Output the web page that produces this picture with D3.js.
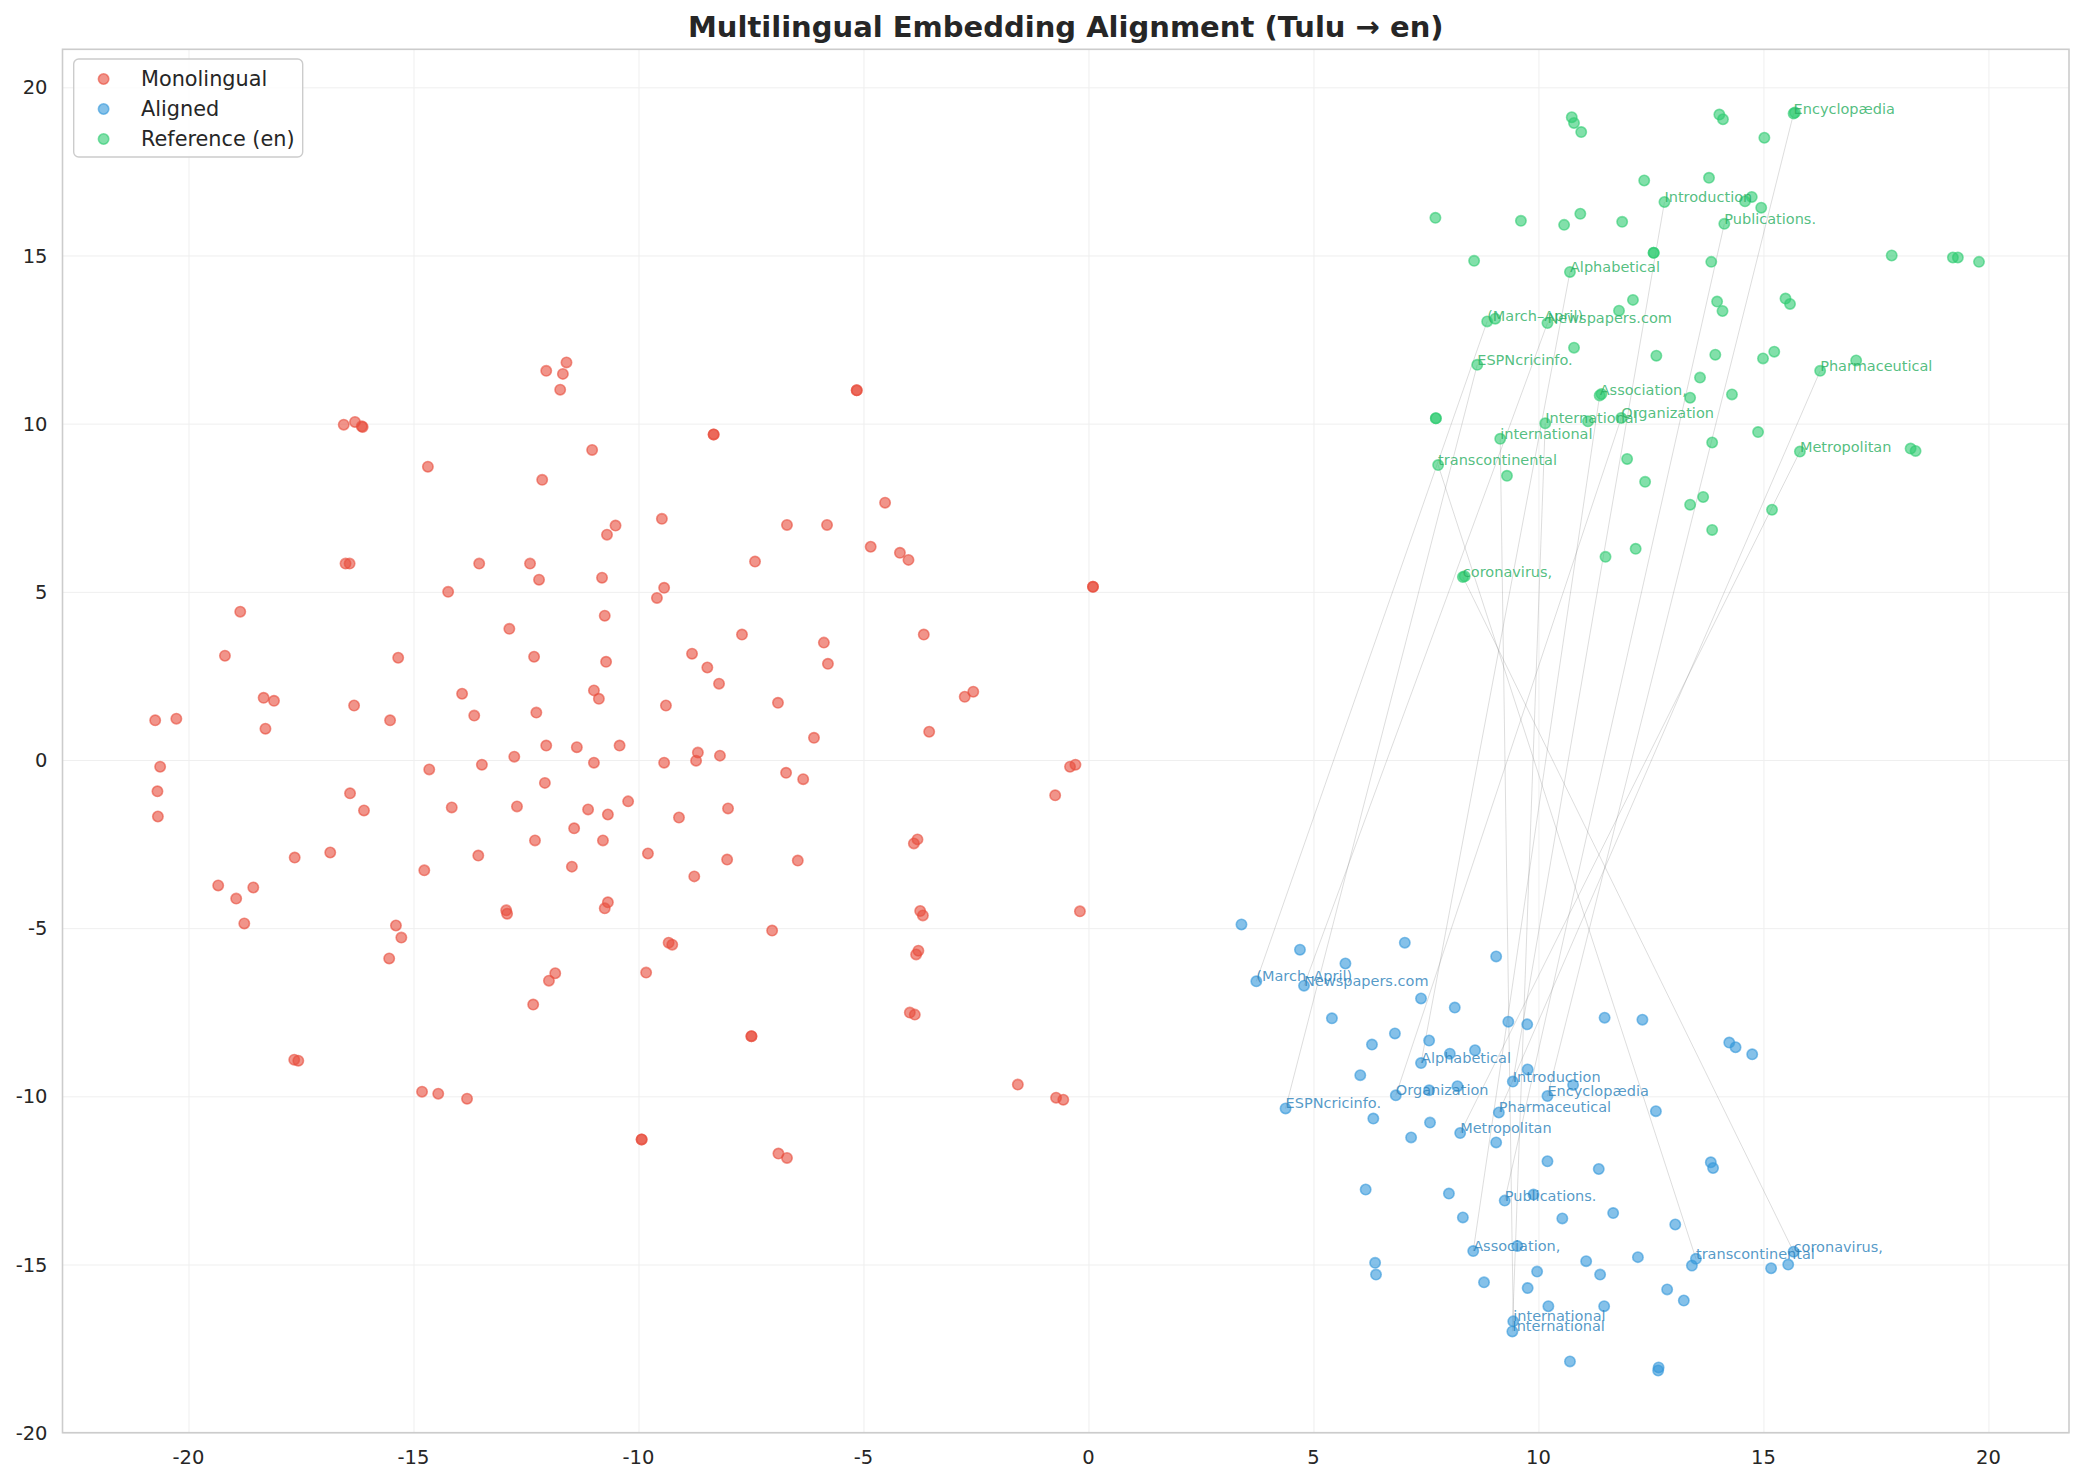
<!DOCTYPE html>
<html lang="en">
<head>
<meta charset="UTF-8">
<script src="https://d3js.org/d3.v7.min.js"></script>
<style>
    body {margin: 0; background: #ffffff;}
    svg text {font-family: "DejaVu Sans", sans-serif;}
</style>
</head>
<body>
<svg class="chart"></svg>
<script type="text/javascript">
// monolingual (source) embeddings
const monolingual = [
    [-11.6, 11.82], [-12.05, 11.57], [-11.68, 11.48], [-11.74, 11.01],
    [-16.55, 9.97], [-16.3, 10.05], [-16.15, 9.92], [-16.13, 9.9],
    [-11.03, 9.22], [-14.68, 8.72], [-12.14, 8.33], [-10.51, 6.97], [-10.7, 6.7],
    [-16.51, 5.84], [-16.42, 5.84], [-13.54, 5.84], [-12.41, 5.84], [-12.21, 5.36], [-10.81, 5.42],
    [-14.23, 5.0], [-10.75, 4.29], [-18.85, 4.41], [-12.87, 3.9],
    [-19.19, 3.1], [-15.34, 3.04], [-12.32, 3.07], [-10.72, 2.92],
    [-13.92, 1.97], [-10.99, 2.07], [-10.88, 1.82], [-18.33, 1.85], [-18.1, 1.76], [-16.32, 1.62],
    [-20.74, 1.18], [-20.27, 1.23], [-18.29, 0.93], [-15.52, 1.18], [-13.65, 1.32], [-12.27, 1.41],
    [-12.05, 0.43], [-11.37, 0.38], [-10.42, 0.43],
    [-20.63, -0.2], [-14.65, -0.28], [-13.48, -0.14], [-12.76, 0.1], [-10.99, -0.08],
    [-12.08, -0.68], [-20.69, -0.93], [-20.68, -1.68], [-16.41, -0.99], [-16.1, -1.5],
    [-14.15, -1.41], [-12.7, -1.38], [-11.12, -1.47], [-10.68, -1.62], [-11.43, -2.03],
    [-12.3, -2.39], [-10.79, -2.39], [-16.85, -2.75], [-17.64, -2.9], [-13.56, -2.84],
    [-14.76, -3.28], [-11.48, -3.17], [-19.34, -3.73], [-18.56, -3.79], [-18.94, -4.12],
    [-18.76, -4.86], [-12.94, -4.47], [-12.92, -4.57], [-10.68, -4.23], [-10.75, -4.41],
    [-15.39, -4.92], [-15.27, -5.28], [-15.54, -5.9], [-11.85, -6.34], [-11.99, -6.56],
    [-12.34, -7.27], [-17.65, -8.91], [-17.56, -8.94], [-14.81, -9.86], [-14.45, -9.92], [-13.81, -10.07],
    [-5.15, 10.99], [-5.15, 10.99], [-8.33, 9.68], [-8.33, 9.68], [-4.52, 7.65], [-6.7, 6.99],
    [-5.81, 6.99], [-9.48, 7.17], [-7.41, 5.9], [-4.84, 6.34], [-4.19, 6.16], [-4.0, 5.95],
    [0.1, 5.15], [0.1, 5.15], [-9.43, 5.12], [-9.59, 4.82], [-7.7, 3.73], [-5.88, 3.49],
    [-5.79, 2.86], [-3.66, 3.73], [-8.81, 3.16], [-8.47, 2.75], [-8.21, 2.27], [-9.39, 1.62],
    [-6.9, 1.7], [-2.75, 1.88], [-2.56, 2.03], [-3.54, 0.84], [-6.1, 0.66], [-9.43, -0.08],
    [-8.68, 0.22], [-8.72, -0.02], [-8.19, 0.13], [-6.72, -0.38], [-6.34, -0.57], [-0.41, -0.2], [-0.29, -0.14],
    [-10.23, -1.23], [-9.1, -1.71], [-8.01, -1.44], [-0.74, -1.05], [-9.79, -2.78], [-8.03, -2.96],
    [-6.46, -2.99], [-8.76, -3.46], [-3.88, -2.48], [-3.8, -2.36], [-3.74, -4.49], [-3.68, -4.62],
    [-0.19, -4.5], [-7.03, -5.07], [-9.33, -5.43], [-9.25, -5.49], [-3.78, -5.67], [-3.83, -5.78],
    [-9.83, -6.32], [-3.97, -7.51], [-3.86, -7.57], [-7.49, -8.21], [-7.49, -8.21], [-1.57, -9.65],
    [-0.72, -10.04], [-0.56, -10.1], [-9.93, -11.28], [-9.93, -11.28], [-6.89, -11.7], [-6.7, -11.83]
];

// aligned embeddings (unlabelled)
const aligned = [
    [3.4, -4.89], [4.7, -5.64], [7.03, -5.43], [5.71, -6.05], [9.06, -5.84], [7.39, -7.09],
    [8.14, -7.36], [5.41, -7.68], [9.33, -7.78], [9.75, -7.86], [11.47, -7.66], [12.31, -7.72],
    [6.81, -8.13], [7.57, -8.34], [6.3, -8.46], [14.24, -8.4], [14.38, -8.54], [14.75, -8.75],
    [8.03, -8.73], [8.59, -8.63], [9.76, -9.2], [6.04, -9.37], [10.77, -9.66], [8.2, -9.7],
    [7.57, -9.82], [12.61, -10.44], [6.33, -10.66], [7.59, -10.78], [7.17, -11.22], [9.06, -11.37],
    [10.2, -11.93], [11.34, -12.16], [13.83, -11.96], [13.88, -12.13], [6.16, -12.77], [8.01, -12.89],
    [9.89, -12.92], [8.32, -13.6], [10.53, -13.63], [11.66, -13.47], [13.04, -13.81], [9.53, -14.45],
    [6.37, -14.95], [6.39, -15.3], [11.06, -14.9], [12.21, -14.78], [13.41, -15.03], [15.17, -15.11],
    [15.55, -15.0], [9.97, -15.21], [11.37, -15.3], [8.79, -15.53], [9.76, -15.7], [12.86, -15.74],
    [13.23, -16.07], [10.22, -16.24], [11.46, -16.24], [10.7, -17.88], [12.67, -18.06], [12.66, -18.15]
];

// english reference embeddings (unlabelled)
const reference = [
    [10.74, 19.11], [10.79, 18.94], [10.95, 18.67], [14.02, 19.19], [14.1, 19.05], [15.7, 19.25],
    [15.02, 18.5], [12.35, 17.23], [13.79, 17.31], [14.59, 16.61], [14.74, 16.74], [14.95, 16.42],
    [7.71, 16.12], [9.61, 16.03], [10.57, 15.91], [10.93, 16.24], [11.86, 16.0], [12.56, 15.08],
    [12.56, 15.08], [8.57, 14.84], [13.84, 14.81], [17.85, 15.0], [19.21, 14.94], [19.32, 14.94],
    [19.79, 14.81], [12.1, 13.68], [11.79, 13.36], [13.97, 13.63], [14.09, 13.35], [15.49, 13.72],
    [15.59, 13.56], [9.04, 13.12], [10.79, 12.26], [12.62, 12.02], [13.93, 12.05], [14.99, 11.94],
    [15.24, 12.14], [17.06, 11.88], [13.59, 11.37], [11.4, 10.88], [13.37, 10.77], [14.3, 10.87],
    [7.72, 10.16], [7.72, 10.16], [11.1, 10.07], [14.88, 9.75], [13.86, 9.44], [18.27, 9.26],
    [18.38, 9.19], [11.97, 8.95], [9.3, 8.45], [12.37, 8.27], [13.66, 7.82], [13.37, 7.59],
    [15.19, 7.44], [13.86, 6.84], [12.16, 6.28], [11.49, 6.04], [8.36, 5.46]
];

// annotated word pairs
const words = ["(March–April)", "Newspapers.com", "Alphabetical", "Introduction", "Organization",
    "Encyclopædia", "ESPNcricinfo.", "Pharmaceutical", "Metropolitan", "Publications.",
    "Association,", "transcontinental", "coronavirus,", "international", "International"];
const alignedWords = [[3.73, -6.58], [4.79, -6.71], [7.39, -9.01], [9.43, -9.56], [6.83, -9.97],
    [10.2, -9.99], [4.38, -10.36], [9.12, -10.48], [8.26, -11.09], [9.25, -13.1],
    [8.55, -14.6], [13.5, -14.83], [15.67, -14.62], [9.44, -16.69], [9.42, -16.99]];
const referenceWords = [[8.86, 13.04], [10.2, 12.99], [10.7, 14.51], [12.8, 16.59], [11.84, 10.17],
    [15.67, 19.22], [8.64, 11.75], [16.26, 11.57], [15.81, 9.17], [14.13, 15.94],
    [11.36, 10.84], [7.77, 8.77], [8.32, 5.44], [9.15, 9.55], [10.15, 10.01]];

const xTicks = [-20, -15, -10, -5, 0, 5, 10, 15, 20];
const yTicks = [-20, -15, -10, -5, 0, 5, 10, 15, 20];
const seriesNames = ["Monolingual", "Aligned", "Reference (en)"];
const seriesColors = ["#e74c3c", "#3498db", "#2ecc71"];

let width = 2085, height = 1483;
let plotLeft = 62.5, plotRight = 2069, plotTop = 49.3, plotBottom = 1432.7;

var svg = d3.select('.chart').attr('width', width).attr('height', height);

var x = d3.scaleLinear().domain([-22.8, 21.79]).range([plotLeft, plotRight]);
var y = d3.scaleLinear().domain([-20, 21.13]).range([plotBottom, plotTop]);

// grid
svg.append('g').attr('transform', 'translate(0,' + plotBottom + ')')
    .call(d3.axisBottom(x).tickValues(xTicks).tickSize(-(plotBottom - plotTop)).tickFormat(''))
    .call(g => g.select('.domain').remove())
    .selectAll('line').attr('stroke', '#efefef').attr('stroke-width', 1);
svg.append('g').attr('transform', 'translate(' + plotLeft + ',0)')
    .call(d3.axisLeft(y).tickValues(yTicks).tickSize(-(plotRight - plotLeft)).tickFormat(''))
    .call(g => g.select('.domain').remove())
    .selectAll('line').attr('stroke', '#efefef').attr('stroke-width', 1);

// tick labels
svg.append('g').selectAll('text').data(xTicks).enter().append('text')
    .attr('x', d => x(d)).attr('y', plotBottom + 31)
    .attr('text-anchor', 'middle').attr('font-size', '19.5px').attr('fill', '#262626')
    .text(d => d);
svg.append('g').selectAll('text').data(yTicks).enter().append('text')
    .attr('x', plotLeft - 15).attr('y', d => y(d)).attr('dy', '0.36em')
    .attr('text-anchor', 'end').attr('font-size', '19.5px').attr('fill', '#262626')
    .text(d => d);

// connection lines
svg.append('g').selectAll('line').data(words).enter().append('line')
    .attr('x1', (d, i) => x(alignedWords[i][0])).attr('y1', (d, i) => y(alignedWords[i][1]))
    .attr('x2', (d, i) => x(referenceWords[i][0])).attr('y2', (d, i) => y(referenceWords[i][1]))
    .attr('stroke', '#808080').attr('stroke-opacity', 0.3).attr('stroke-width', 0.9);

// scatter
var groups = [monolingual, aligned.concat(alignedWords), reference.concat(referenceWords)];
groups.forEach((pts, k) => {
    svg.append('g').selectAll('circle').data(pts).enter().append('circle')
        .attr('cx', d => x(d[0])).attr('cy', d => y(d[1])).attr('r', 5.2)
        .attr('fill', seriesColors[k]).attr('fill-opacity', 0.6)
        .attr('stroke', seriesColors[k]).attr('stroke-opacity', 0.6).attr('stroke-width', 1.6);
});

// word labels
svg.append('g').selectAll('text').data(words).enter().append('text')
    .attr('x', (d, i) => x(alignedWords[i][0])).attr('y', (d, i) => y(alignedWords[i][1]))
    .attr('font-size', '14.5px').attr('fill', '#2980b9').attr('fill-opacity', 0.8)
    .text(d => d);
svg.append('g').selectAll('text').data(words).enter().append('text')
    .attr('x', (d, i) => x(referenceWords[i][0])).attr('y', (d, i) => y(referenceWords[i][1]))
    .attr('font-size', '14.5px').attr('fill', '#27ae60').attr('fill-opacity', 0.8)
    .text(d => d);

// frame
svg.append('rect').attr('x', plotLeft).attr('y', plotTop)
    .attr('width', plotRight - plotLeft).attr('height', plotBottom - plotTop)
    .attr('fill', 'none').attr('stroke', '#cccccc').attr('stroke-width', 1.6);

// legend
var legend = svg.append('g');
legend.append('rect').attr('x', 73.7).attr('y', 59).attr('width', 229).attr('height', 98)
    .attr('rx', 5).attr('fill', '#ffffff').attr('fill-opacity', 0.8)
    .attr('stroke', '#cccccc').attr('stroke-width', 1.4);
seriesNames.forEach((name, i) => {
    legend.append('circle').attr('cx', 103.6).attr('cy', 79 + i * 30).attr('r', 5.2)
        .attr('fill', seriesColors[i]).attr('fill-opacity', 0.6)
        .attr('stroke', seriesColors[i]).attr('stroke-opacity', 0.6).attr('stroke-width', 1.6);
    legend.append('text').attr('x', 141).attr('y', 79 + i * 30).attr('dy', '0.36em')
        .attr('font-size', '20.8px').attr('fill', '#262626').text(name);
});

// title
svg.append('text').attr('x', (plotLeft + plotRight) / 2).attr('y', 37)
    .attr('text-anchor', 'middle').attr('font-size', '29px').attr('font-weight', 'bold')
    .attr('fill', '#262626').text('Multilingual Embedding Alignment (Tulu \u2192 en)');
</script>
</body>
</html>
